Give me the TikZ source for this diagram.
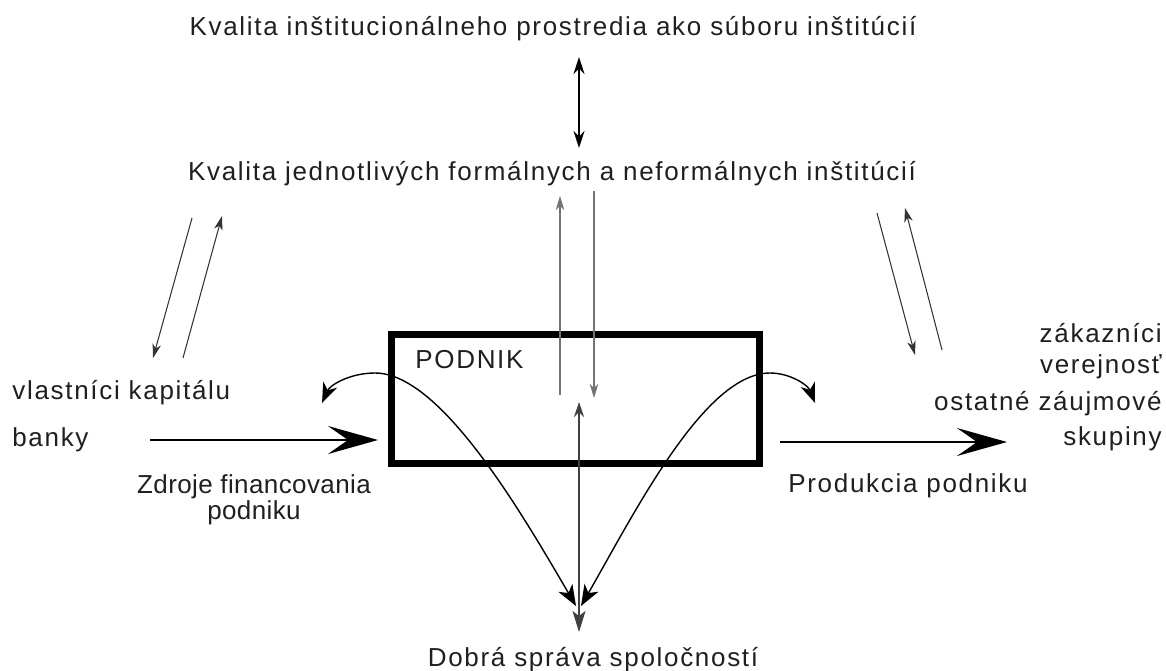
\documentclass[tikz,border=0pt]{standalone}
\usepackage{fontspec}
\setmainfont[LetterSpace=6.5]{Liberation Sans}
\usetikzlibrary{arrows.meta}

\begin{document}
\begin{tikzpicture}[x=0.02cm,y=-0.02cm,
    lbl/.style={inner sep=0,text=black!88,font=\fontsize{14.8}{14.8}\selectfont},
    firm/.style={draw,line width=0.14cm,minimum width=7.38cm,minimum height=2.6cm,inner sep=0},
    flow/.style={line width=0.05cm,-{Stealth[length=1cm,width=0.56cm,inset=0.4cm]}},
    ptr/.style={line width=0.6pt,black!80,-{Stealth[length=0.28cm,width=0.17cm,inset=0.08cm]}},
    swing/.style={line width=0.8pt,{Stealth[length=0.4cm,width=0.3cm,inset=0.12cm]}-{Stealth[length=0.42cm,width=0.32cm,inset=0.12cm]}}]
    \useasboundingbox (0,0) rectangle (1166,670);
    % texts
    \node[lbl,anchor=base] (inst) at (553,35) {Kvalita inštitucionálneho prostredia ako súboru inštitúcií};
    \node[lbl,anchor=base] (formal) at (552,180) {Kvalita jednotlivých formálnych a neformálnych inštitúcií};
    \node[firm] (podnik) at (575.5,399) {};
    \node[lbl,anchor=base west] (podniklbl) at (415,368) {PODNIK};
    \node[lbl,anchor=base west] (owners) at (12,399) {vlastníci kapitálu};
    \node[lbl,anchor=base west] (banks) at (12,446) {banky};
    \node[lbl,anchor=base,align=center,font=\fontsize{14.8}{14.8}\selectfont\addfontfeature{LetterSpace=1.5}] (sources) at (254,519)
        {Zdroje financovania\\podniku};
    \node[lbl,anchor=base west] (output) at (788,492) {Produkcia podniku};
    \node[lbl,anchor=base east,align=right,font=\fontsize{14.8}{17.6}\selectfont] (stake) at (1162,445)
        {zákazníci\\verejnosť\\[0.12cm]ostatné záujmové\\[0.08cm]skupiny};
    \node[lbl,anchor=base] (gov) at (593,666) {Dobrá správa spoločností};
    % arrow ends
    \coordinate (instS) at (579,57);
    \coordinate (formalN) at (579,148);
    \coordinate (upA) at (560,395);    \coordinate (upB) at (560,196);
    \coordinate (dnA) at (594,191);    \coordinate (dnB) at (594,398);
    \coordinate (midTop) at (579,402); \coordinate (govTop) at (579,632);
    \coordinate (lTip) at (322,403);   \coordinate (lPeak) at (375,373);  \coordinate (lEnd) at (576,606);
    \coordinate (rTip) at (815,403);   \coordinate (rPeak) at (770,373);  \coordinate (rEnd) at (581,606);
    \coordinate (inA) at (150,440);    \coordinate (inB) at (378,440);
    \coordinate (outA) at (780,442);   \coordinate (outB) at (1007,442);
    % connectors
    \draw[line width=0.9pt,{Stealth[length=0.34cm,width=0.22cm]}-{Stealth[length=0.34cm,width=0.22cm]}] (instS) -- (formalN);
    \draw[ptr,black!55] (upA) -- (upB);
    \draw[ptr,black!55] (dnA) -- (dnB);
    \draw[line width=0.8pt,black!75,{Stealth[length=0.3cm,width=0.2cm]}-{Stealth[length=0.42cm,width=0.26cm,inset=0.1cm]}] (midTop) -- (govTop);
    \draw[swing] (lTip) .. controls (330,385) and (350,373) .. (lPeak) .. controls (440,373) and (520,510) .. (lEnd);
    \draw[swing] (rTip) .. controls (808,385) and (790,373) .. (rPeak) .. controls (705,373) and (636,510) .. (rEnd);
    \draw[flow] (inA) -- (inB);
    \draw[flow] (outA) -- (outB);
    \draw[ptr] (192,218) -- (153,358);
    \draw[ptr] (183,358) -- (222,216);
    \draw[ptr] (877,213) -- (915,355);
    \draw[ptr] (942,350) -- (905,208);
\end{tikzpicture}
\end{document}
